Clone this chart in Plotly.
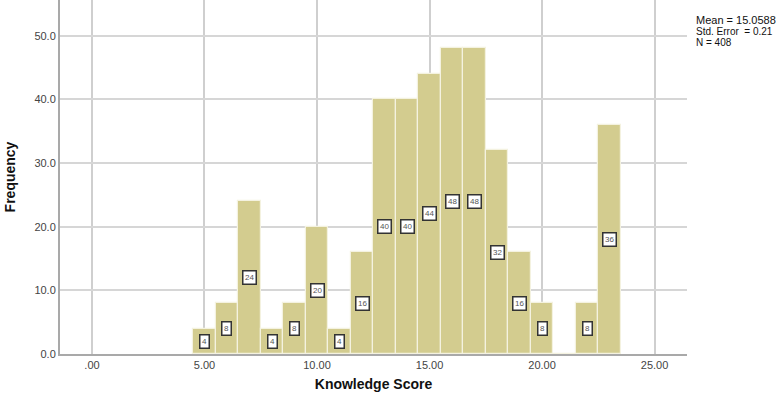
import plotly.graph_objects as go

scores = [5, 6, 7, 8, 9, 10, 11, 12, 13, 14, 15, 16, 17, 18, 19, 20, 21, 22, 23]
freq = [4, 8, 24, 4, 8, 20, 4, 16, 40, 40, 44, 48, 48, 32, 16, 8, 0, 8, 36]
x_ticks = [0, 5, 10, 15, 20, 25]
x_tick_text = [".00", "5.00", "10.00", "15.00", "20.00", "25.00"]
y_ticks = [0, 10, 20, 30, 40, 50]
y_tick_text = ["0.0", "10.0", "20.0", "30.0", "40.0", "50.0"]
stats = ["Mean = 15.0588", "Std. Error  = 0.21", "N = 408"]
stat_sizes = [11, 10, 10]

FONT = "Liberation Sans, Arial, sans-serif"
PLOT_H = 354

fig = go.Figure()
fig.add_trace(go.Bar(
    x=scores, y=freq, width=1,
    marker=dict(color="#d3cc8f", line=dict(color="#f4f2e0", width=1.2)),
    hoverinfo="x+y", showlegend=False,
))

annotations = []
for s, f in zip(scores, freq):
    if f > 0:
        annotations.append(dict(
            x=s, y=f / 2, xref="x", yref="y", text=str(f), showarrow=False,
            font=dict(family=FONT, size=8, color="#555"),
            bgcolor="white", bordercolor="#333", borderwidth=1.5, borderpad=1.5,
        ))

for i, (line, sz) in enumerate(zip(stats, stat_sizes)):
    annotations.append(dict(
        x=1.011, y=1 - (20 + 11 * i) / PLOT_H, xref="paper", yref="paper",
        xanchor="left", yanchor="middle", align="left", showarrow=False,
        text=line, font=dict(family=FONT, size=sz, color="#111"),
    ))

fig.update_layout(
    width=778, height=397,
    margin=dict(l=60, r=91, t=0, b=43),
    paper_bgcolor="white", plot_bgcolor="white",
    bargap=0,
    annotations=annotations,
    xaxis=dict(
        range=[-1.42, 26.44], tickvals=x_ticks, ticktext=x_tick_text,
        showgrid=True, gridcolor="#cfcfcf", gridwidth=1.5,
        showline=True, linecolor="#a9a9a9", linewidth=2,
        zeroline=False, ticks="",
        tickfont=dict(family=FONT, size=11, color="#444"),
        title=dict(text="<b>Knowledge Score</b>", font=dict(family=FONT, size=14, color="#111"), standoff=9),
    ),
    yaxis=dict(
        range=[0, 55.6], tickvals=y_ticks, ticktext=y_tick_text,
        showgrid=True, gridcolor="#d6d6d6", gridwidth=1.5,
        showline=True, linecolor="#a9a9a9", linewidth=2,
        zeroline=False, ticks="",
        tickfont=dict(family=FONT, size=11, color="#444"),
        title=dict(text="<b>Frequency</b>", font=dict(family=FONT, size=14, color="#111"), standoff=15),
    ),
)

fig.write_html("out.html")
